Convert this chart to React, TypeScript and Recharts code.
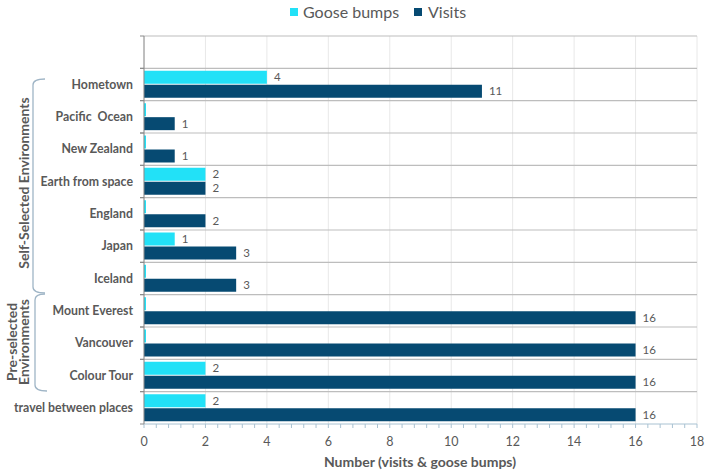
import React from 'react';
import { BarChart, Bar, XAxis, YAxis, CartesianGrid, LabelList } from 'recharts';

const categories = ['', 'Hometown', 'Pacific  Ocean', 'New Zealand', 'Earth from space', 'England', 'Japan', 'Iceland', 'Mount Everest', 'Vancouver', 'Colour Tour', 'travel between places'];
const gooseBumps: (number | null)[] = [null, 4, 0, 0, 2, 0, 1, 0, 0, 0, 2, 2];
const visits: (number | null)[] = [null, 11, 1, 1, 2, 2, 3, 3, 16, 16, 16, 16];
const majorTicks = [0, 2, 4, 6, 8, 10, 12, 14, 16, 18];
const seriesNames = ['Goose bumps', 'Visits'];
const seriesColors = ['#22E1F7', '#064A72'];
const groupSelf = 'Self-Selected Environments';
const groupPre = ['Pre-selected', 'Environments'];
const xTitle = 'Number (visits & goose bumps)';

const data = categories.map((c, i) => ({ name: c, goose: gooseBumps[i], visits: visits[i] }));

const W = 708;
const H = 476;
const TOP = 36;
const LEFT = 144;
const RIGHT_M = 11;
const XAXIS_H = 52;
const BOTTOM = H - XAXIS_H;
const BAND = (BOTTOM - TOP) / categories.length;
const FONT = 'Lato, "Open Sans", sans-serif';
const GRAY = '#595959';

const minorTicks: number[] = [];
for (let i = 0; i <= 45; i++) minorTicks.push(Math.round(i * 4) / 10);

const XTick = (props: any) => {
  const { x, y, payload } = props;
  const v = payload.value;
  const major = majorTicks.includes(v);
  return (
    <g>
      <line x1={x} x2={x} y1={y} y2={y + 4} stroke="#a9c2d2" strokeWidth={1} />
      {major && (
        <text x={x} y={y + 22} textAnchor="middle" fill={GRAY} fontSize={12.5} fontFamily={FONT}>
          {v}
        </text>
      )}
    </g>
  );
};

const YTick = (props: any) => {
  const { x, y, payload } = props;
  return (
    <g>
      <line x1={x - 4} x2={x} y1={y - BAND / 2} y2={y - BAND / 2} stroke="#8a8a8a" />
      <line x1={x - 4} x2={x} y1={y + BAND / 2} y2={y + BAND / 2} stroke="#8a8a8a" />
      <text x={x - 11} y={y + 4} textAnchor="end" fill={GRAY} fontSize={12.3} fontWeight="bold" fontFamily={FONT} style={{ whiteSpace: 'pre' }}>
        {payload.value}
      </text>
    </g>
  );
};

const fmt = (v: any) => (v ? v : '');

export default function App() {
  return (
    <div style={{ position: 'absolute', left: 0, top: 0, width: W, height: H, background: '#fff' }}>
      <BarChart
        width={W}
        height={H}
        data={data}
        layout="vertical"
        margin={{ top: TOP, right: RIGHT_M, left: 0, bottom: 0 }}
        barCategoryGap={2.5}
        barGap={1}
      >
        <CartesianGrid
          horizontal={false}
          vertical={true}
          stroke="#e8e8e8"
          verticalCoordinatesGenerator={({ offset }: any) =>
            majorTicks.map((v) => offset.left + (v / 18) * offset.width)
          }
        />
        <CartesianGrid
          vertical={false}
          horizontal={true}
          stroke="#bdbdbd"
          strokeWidth={1.2}
          horizontalCoordinatesGenerator={({ offset }: any) =>
            categories.map((_, i) => offset.top + (i * offset.height) / categories.length)
          }
        />
        <XAxis
          type="number"
          domain={[0, 18]}
          ticks={minorTicks}
          interval={0}
          height={XAXIS_H}
          tickSize={0}
          tickMargin={0}
          tickLine={false}
          axisLine={{ stroke: '#a9c2d2' }}
          tick={<XTick />}
          allowDecimals={true}
        />
        <YAxis
          type="category"
          dataKey="name"
          width={LEFT}
          tickSize={0}
          tickMargin={0}
          tickLine={false}
          interval={0}
          axisLine={{ stroke: '#8a8a8a' }}
          tick={<YTick />}
        />
        <Bar
          dataKey="goose"
          name={seriesNames[0]}
          fill={seriesColors[0]}
          isAnimationActive={false}
          minPointSize={(v: any) => (v === 0 ? 2 : 0)}
        >
          <LabelList dataKey="goose" position="right" offset={7} fill={GRAY} fontSize={11.5} fontFamily={FONT} formatter={fmt} />
        </Bar>
        <Bar dataKey="visits" name={seriesNames[1]} fill={seriesColors[1]} isAnimationActive={false}>
          <LabelList dataKey="visits" position="right" offset={7} fill={GRAY} fontSize={11.5} fontFamily={FONT} formatter={fmt} />
        </Bar>
      </BarChart>
      <svg
        width={W}
        height={H}
        style={{ position: 'absolute', left: 0, top: 0, pointerEvents: 'none' }}
      >
        {/* legend */}
        <rect x={290} y={8} width={8} height={8} fill={seriesColors[0]} />
        <text x={303} y={17.5} fill={GRAY} fontSize={16} fontFamily={FONT}>{seriesNames[0]}</text>
        <rect x={414} y={8} width={8} height={8} fill={seriesColors[1]} />
        <text x={428} y={17.5} fill={GRAY} fontSize={16} fontFamily={FONT}>{seriesNames[1]}</text>
        {/* brackets */}
        <path d="M45,79 Q33,79 33,85 L33,287 Q33,293 45,293" fill="none" stroke="#9fb5c6" strokeWidth={1.3} />
        <path d="M45,294 Q35,294 35,300 L35,385 Q35,391 47,391" fill="none" stroke="#9fb5c6" strokeWidth={1.3} />
        {/* group labels */}
        <text transform="translate(29,183) rotate(-90)" textAnchor="middle" fill={GRAY} fontSize={14} fontWeight="bold" fontFamily={FONT}>
          {groupSelf}
        </text>
        <text transform="translate(17,342) rotate(-90)" textAnchor="middle" fill={GRAY} fontSize={14} fontWeight="bold" fontFamily={FONT}>
          {groupPre[0]}
        </text>
        <text transform="translate(29,342) rotate(-90)" textAnchor="middle" fill={GRAY} fontSize={14} fontWeight="bold" fontFamily={FONT}>
          {groupPre[1]}
        </text>
        {/* x title */}
        <text x={420} y={467} textAnchor="middle" fill={GRAY} fontSize={14} fontWeight="bold" fontFamily={FONT}>
          {xTitle}
        </text>
      </svg>
    </div>
  );
}
